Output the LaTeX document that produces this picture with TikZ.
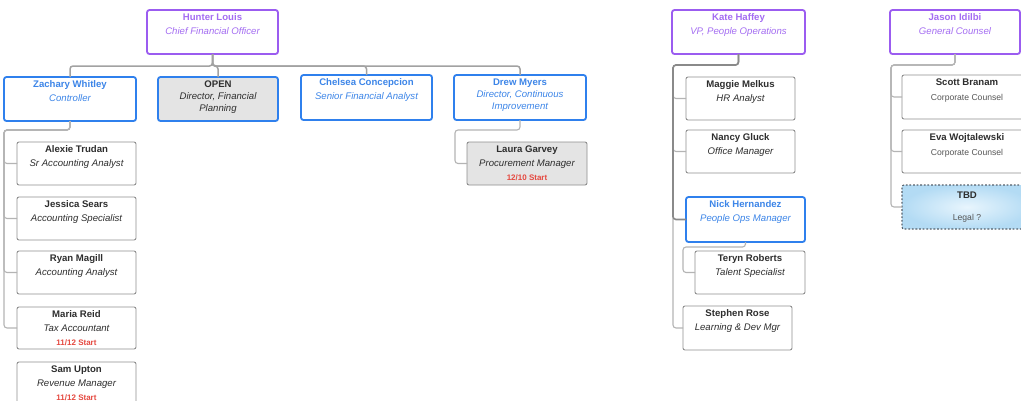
\documentclass[tikz,border=0pt]{standalone}
\usepackage{fontspec}
\setmainfont{Liberation Sans}

% palette
\definecolor{vpPurple}{HTML}{9B5CF0}
\definecolor{vpText}{HTML}{A46DF2}
\definecolor{mgrBlue}{HTML}{2F80ED}
\definecolor{mgrText}{HTML}{3C85E8}
\definecolor{staffText}{HTML}{2E2E2E}
\definecolor{staffBorder}{HTML}{8E8E8E}
\definecolor{noteText}{HTML}{555555}
\definecolor{startRed}{HTML}{E5483F}
\definecolor{openFill}{HTML}{E4E4E4}
\definecolor{linkGray}{HTML}{A2A2A2}
\definecolor{linkLight}{HTML}{B4B4B4}
\definecolor{linkDark}{HTML}{8A8A8A}
\definecolor{tbdInner}{HTML}{E8F5FD}
\definecolor{tbdOuter}{HTML}{B3DBF4}
\definecolor{tbdBorder}{HTML}{55606A}

% a card is a fixed-size box; each row sets its own baseline offset
\newcommand\cardwd{100pt}
\newcommand\card[3]{\vbox to #2pt{\offinterlineskip\def\cardwd{#1pt}#3\vss}}
\newcommand\cardrow[2]{\hbox to \cardwd{\vrule width0pt height#1pt depth0pt\hss\smash{#2}\hss}}
\newcommand\cardname[2][10.2]{\cardrow{#1}{\fontsize{9.6}{11}\selectfont\bfseries #2}}
\newcommand\cardtitle[2][14.4]{\cardrow{#1}{\fontsize{9.6}{11}\selectfont\itshape #2}}
\newcommand\cardstart[1]{\cardrow{14}{\fontsize{8}{10}\selectfont\bfseries\color{startRed}#1}}
\newcommand\cardnote[2][14.8]{\cardrow{#1}{\fontsize{8.6}{10}\selectfont\color{noteText}#2}}

\begin{document}
\begin{tikzpicture}[x=1pt, y=-1pt,
  cardbase/.style={inner sep=0pt, outer sep=0pt, anchor=north west, fill=white},
  vp/.style={cardbase, draw=vpPurple, line width=1.8pt, rounded corners=2.5pt, text=vpText},
  mgr/.style={cardbase, draw=mgrBlue, line width=1.8pt, rounded corners=2.5pt, text=mgrText},
  openrole/.style={mgr, fill=openFill, text=staffText},
  staff/.style={cardbase, draw=staffBorder, line width=0.9pt, rounded corners=2pt, text=staffText},
  pending/.style={staff, fill=openFill},
  tbdrole/.style={cardbase, draw=tbdBorder, line width=1.1pt, rounded corners=2pt,
    dash pattern=on 1.8pt off 1.8pt, text=staffText,
    inner color=tbdInner, outer color=tbdOuter},
  link/.style={draw=linkGray, line width=1.5pt, rounded corners=3pt},
  linklight/.style={draw=linkLight, line width=1.1pt, rounded corners=3pt},
  linkdark/.style={draw=linkDark, line width=1.6pt, rounded corners=3pt}]

\clip (0,0) rectangle (1021,400);
\fill[white] (0,0) rectangle (1021,400);

% ---------------- Finance ----------------
\node[vp] (hunter) at (147,10) {\card{131}{44}{\cardname{Hunter Louis}\cardtitle{Chief Financial Officer}}};

\node[mgr] (zachary) at (4,77) {\card{132}{44}{\cardname{Zachary Whitley}\cardtitle{Controller}}};
\node[openrole] (open) at (158,77) {\card{120}{44}{\cardname{OPEN}\cardtitle[11.8]{Director, Financial}\cardtitle[12]{Planning}}};
\node[mgr] (chelsea) at (301,75) {\card{131}{45}{\cardname{Chelsea Concepcion}\cardtitle{Senior Financial Analyst}}};
\node[mgr] (drew) at (454,75) {\card{132}{45}{\cardname{Drew Myers}\cardtitle[12.5]{Director, Continuous}\cardtitle[12]{Improvement}}};

\node[pending] (laura) at (467,142) {\card{120}{43}{\cardname{Laura Garvey}\cardtitle{Procurement Manager}\cardstart{12/10 Start}}};

\node[staff] (alexie) at (17,142) {\card{119}{43}{\cardname{Alexie Trudan}\cardtitle{Sr Accounting Analyst}}};
\node[staff] (jessica) at (17,197) {\card{119}{43}{\cardname{Jessica Sears}\cardtitle{Accounting Specialist}}};
\node[staff] (ryan) at (17,251) {\card{119}{43}{\cardname{Ryan Magill}\cardtitle{Accounting Analyst}}};
\node[staff] (maria) at (17,307) {\card{119}{42}{\cardname{Maria Reid}\cardtitle{Tax Accountant}\cardstart{11/12 Start}}};
\node[staff] (sam) at (17,362) {\card{119}{43}{\cardname{Sam Upton}\cardtitle{Revenue Manager}\cardstart{11/12 Start}}};

% ---------------- People Operations ----------------
\node[vp] (kate) at (672,10) {\card{133}{44}{\cardname{Kate Haffey}\cardtitle{VP, People Operations}}};
\node[staff] (maggie) at (686,77) {\card{109}{43}{\cardname{Maggie Melkus}\cardtitle{HR Analyst}}};
\node[staff] (nancy) at (686,130) {\card{109}{43}{\cardname{Nancy Gluck}\cardtitle{Office Manager}}};
\node[mgr] (nick) at (686,197) {\card{119}{45}{\cardname{Nick Hernandez}\cardtitle{People Ops Manager}}};
\node[staff] (teryn) at (695,251) {\card{110}{43}{\cardname{Teryn Roberts}\cardtitle{Talent Specialist}}};
\node[staff] (stephen) at (683,306) {\card{109}{44}{\cardname{Stephen Rose}\cardtitle{Learning \& Dev Mgr}}};

% ---------------- Legal ----------------
\node[vp] (jason) at (890,10) {\card{130}{44}{\cardname{Jason Idilbi}\cardtitle{General Counsel}}};
\node[staff] (scott) at (902,75) {\card{130}{44}{\cardname{Scott Branam}\cardnote{Corporate Counsel}}};
\node[staff] (eva) at (902,130) {\card{130}{43}{\cardname{Eva Wojtalewski}\cardnote{Corporate Counsel}}};
\node[tbdrole] (tbd) at (902,185) {\card{130}{44}{\cardname[13.5]{TBD}\cardnote[21.8]{Legal ?}}};

% ---------------- reporting lines ----------------
\foreach \c in {zachary, open, chelsea, drew}
  \draw[link] (hunter.south) -- ++(0,12) -| (\c.north);

\coordinate (zspine) at (4,130);
\foreach \c in {alexie, jessica, ryan, maria}
  \draw[linklight] (zachary.south) |- (zspine) |- (\c.west);

\coordinate (dspine) at (455,130);
\draw[linklight] (drew.south) |- (dspine) |- (laura.west);

\coordinate (kspine) at (673,65);
\foreach \c in {maggie, nancy, stephen}
  \draw[linklight] (kate.south) |- (kspine) |- (\c.west);
\draw[linkdark] (kate.south) |- (kspine) |- (nick.west);

\coordinate (nspine) at (683,247);
\draw[linklight] (nick.south) |- (nspine) |- (teryn.west);

\coordinate (jspine) at (891,65);
\foreach \c in {scott, eva, tbd}
  \draw[linklight] (jason.south) |- (jspine) |- (\c.west);

\end{tikzpicture}
\end{document}
